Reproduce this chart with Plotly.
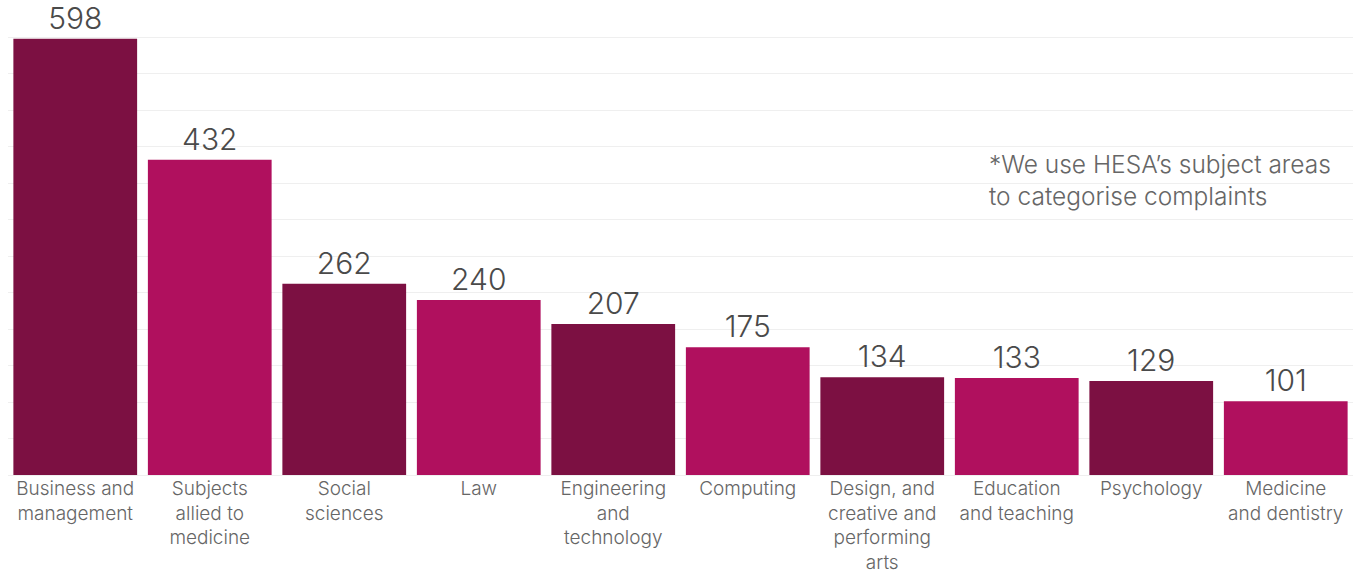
import plotly.graph_objects as go

# Complaints by subject area
subjects = [
    "Business and<br>management",
    "Subjects<br>allied to<br>medicine",
    "Social<br>sciences",
    "Law",
    "Engineering<br>and<br>technology",
    "Computing",
    "Design, and<br>creative and<br>performing<br>arts",
    "Education<br>and teaching",
    "Psychology",
    "Medicine<br>and dentistry",
]
complaints = [598, 432, 262, 240, 207, 175, 134, 133, 129, 101]

DARK = "#7C1042"
PINK = "#B0105E"
bar_colors = [DARK if i % 2 == 0 else PINK for i in range(len(subjects))]

FONT = "Inter, Open Sans, sans-serif"

fig = go.Figure(
    go.Bar(
        x=subjects,
        y=complaints,
        marker=dict(color=bar_colors, line=dict(width=0)),
        text=[str(v) for v in complaints],
        textposition="outside",
        textfont=dict(family=FONT, size=30, color="#4a4a4a", weight=300),
        cliponaxis=False,
        hoverinfo="skip",
    )
)

fig.update_layout(
    width=1363,
    height=576,
    margin=dict(l=8, r=10, t=0, b=101),
    paper_bgcolor="white",
    plot_bgcolor="white",
    bargap=0.08,
    showlegend=False,
    font=dict(family=FONT),
    xaxis=dict(
        automargin=False,
        showgrid=False,
        showline=False,
        ticks="",
        ticklabelstandoff=0,
        tickfont=dict(family=FONT, size=19, color="#666666", weight=300),
    ),
    yaxis=dict(
        automargin=False,
        range=[0, 651],
        dtick=50,
        showticklabels=False,
        showgrid=True,
        gridcolor="#efefef",
        gridwidth=1,
        zeroline=True,
        zerolinecolor="#efefef",
        zerolinewidth=1,
    ),
    annotations=[
        dict(
            text="*We use HESA\u2019s subject areas<br>to categorise complaints",
            xref="paper",
            yref="paper",
            x=0.728,
            y=0.622,
            xanchor="left",
            yanchor="middle",
            align="left",
            showarrow=False,
            font=dict(family=FONT, size=24.5, color="#666666", weight=300),
        )
    ],
)

fig.write_html("out.html")
